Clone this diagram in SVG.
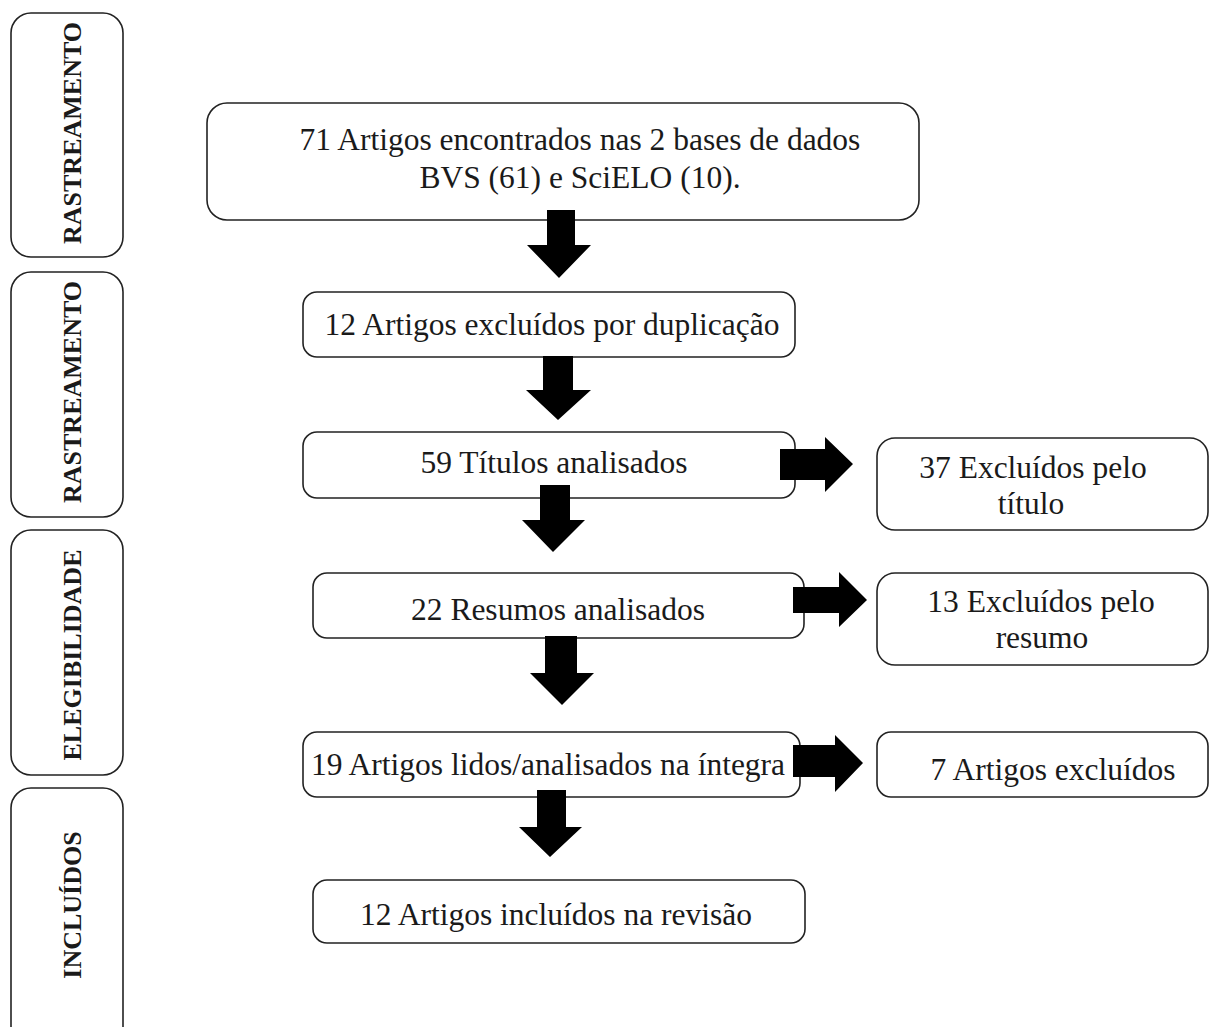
<svg xmlns="http://www.w3.org/2000/svg" width="1209" height="1027" viewBox="0 0 1209 1027">
<style>
.box{fill:#fff;stroke:#222;stroke-width:1.6}
.t{font-family:"Liberation Serif","Times New Roman",serif;font-size:31.5px;fill:#1a1a1a;text-anchor:middle}
.side{font-family:"Liberation Serif","Times New Roman",serif;font-size:26px;font-weight:bold;fill:#1a1a1a;text-anchor:middle}
.arr{fill:#000}
</style>
<rect width="1209" height="1027" fill="#fff"/>
<g id="phase-rastreamento-1">
<rect class="box" x="11" y="13" width="112" height="244" rx="20"/>
<text class="side" transform="translate(81,133) rotate(-90)">RASTREAMENTO</text>
</g>
<g id="phase-rastreamento-2">
<rect class="box" x="11" y="272" width="112" height="245" rx="20"/>
<text class="side" transform="translate(81,392) rotate(-90)">RASTREAMENTO</text>
</g>
<g id="phase-elegibilidade">
<rect class="box" x="11" y="530" width="112" height="245" rx="20"/>
<text class="side" transform="translate(81,655) rotate(-90)">ELEGIBILIDADE</text>
</g>
<g id="phase-incluidos">
<rect class="box" x="11" y="788" width="112" height="260" rx="20"/>
<text class="side" transform="translate(81,905) rotate(-90)">INCLUÍDOS</text>
</g>
<g id="n-encontrados">
<rect class="box" x="207" y="103" width="712" height="117" rx="20"/>
<text class="t" x="580" y="150">71 Artigos encontrados nas 2 bases de dados</text>
<text class="t" x="580" y="188">BVS (61) e SciELO (10).</text>
</g>
<g id="n-duplicacao">
<rect class="box" x="303" y="292" width="492" height="65" rx="14"/>
<text class="t" x="552" y="335">12 Artigos excluídos por duplicação</text>
</g>
<g id="n-titulos">
<rect class="box" x="303" y="432" width="492" height="66" rx="14"/>
<text class="t" x="554" y="473">59 Títulos analisados</text>
</g>
<g id="n-excl-titulo">
<rect class="box" x="877" y="438" width="331" height="92" rx="18"/>
<text class="t" x="1033" y="478">37 Excluídos pelo</text>
<text class="t" x="1031" y="514">título</text>
</g>
<g id="n-resumos">
<rect class="box" x="313" y="573" width="491" height="65" rx="14"/>
<text class="t" x="558" y="620">22 Resumos analisados</text>
</g>
<g id="n-excl-resumo">
<rect class="box" x="877" y="573" width="331" height="92" rx="18"/>
<text class="t" x="1041" y="612">13 Excluídos pelo</text>
<text class="t" x="1042" y="648">resumo</text>
</g>
<g id="n-integra">
<rect class="box" x="303" y="732" width="497" height="65" rx="14"/>
<text class="t" x="548" y="775">19 Artigos lidos/analisados na íntegra</text>
</g>
<g id="n-excluidos">
<rect class="box" x="877" y="732" width="331" height="65" rx="14"/>
<text class="t" x="1053" y="780">7 Artigos excluídos</text>
</g>
<g id="n-incluidos">
<rect class="box" x="313" y="880" width="492" height="63" rx="14"/>
<text class="t" x="556" y="925">12 Artigos incluídos na revisão</text>
</g>
<g id="connectors">
<polygon class="arr" points="547,210 575,210 575,245 591,245 559,278 527,245 547,245"/>
<polygon class="arr" points="543,356 573,356 573,390 591,390 558,420 526,390 543,390"/>
<polygon class="arr" points="540,485 570,485 570,520 585,520 553,552 522,520 540,520"/>
<polygon class="arr" points="545,636 577,636 577,673 594,673 562,705 530,673 545,673"/>
<polygon class="arr" points="537,790 566,790 566,827 582,827 550,857 519,827 537,827"/>
<polygon class="arr" points="780,449 825,449 825,437 853,464 825,492 825,480 780,480"/>
<polygon class="arr" points="793,587 839,587 839,572 867,600 839,627 839,613 793,613"/>
<polygon class="arr" points="793,745 835,745 835,735 863,763 835,792 835,777 793,777"/>
</g>
</svg>
